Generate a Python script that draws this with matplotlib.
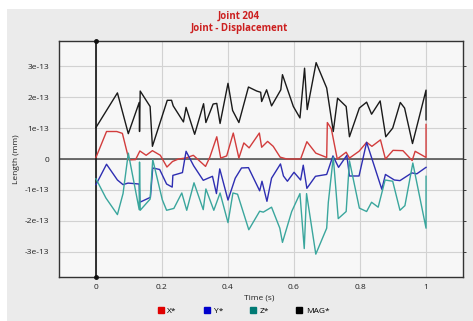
import matplotlib
matplotlib.use("Agg")
import matplotlib.pyplot as plt
from matplotlib.lines import Line2D
from matplotlib.patches import Rectangle

plt.rcParams["font.family"] = ["Open Sans", "DejaVu Sans"]

SCALE = 1e-13

# time values (s) and displacement values (in units of 1e-13 mm)
x_t = [0, 0.032, 0.063, 0.08, 0.100, 0.12, 0.133, 0.152, 0.171, 0.195,
       0.215, 0.232, 0.25, 0.272, 0.295, 0.332, 0.345, 0.366, 0.378, 0.396,
       0.416, 0.433, 0.448, 0.464, 0.495, 0.502, 0.520, 0.537, 0.558, 0.578,
       0.620, 0.639, 0.666, 0.699, 0.701, 0.713, 0.731, 0.758, 0.768, 0.797,
       0.820, 0.836, 0.862, 0.877, 0.900, 0.930, 0.958, 0.967, 1.0, 1.0]
x_v = [0.05, 0.89, 0.89, 0.83, -0.03, -0.02, 0.26, 0.12, 0.27, 0.12,
       -0.26, -0.08, 0.0, 0.03, 0.12, -0.24, 0.06, 0.72, 0.03, 0.1,
       0.84, 0.03, 0.52, 0.36, 0.84, 0.38, 0.57, 0.41, 0.06, 0.0,
       0.0, 0.56, 0.19, 0.05, 1.18, 0.98, 0.0, 0.22, 0.03, 0.25,
       0.54, 0.41, 0.62, 0.0, 0.28, 0.27, -0.05, 0.25, 0.05, 1.12]

y_t = [0, 0.032, 0.065, 0.082, 0.097, 0.131, 0.133, 0.165, 0.172, 0.193,
       0.214, 0.231, 0.233, 0.262, 0.273, 0.296, 0.325, 0.353, 0.365, 0.375,
       0.400, 0.422, 0.441, 0.462, 0.496, 0.503, 0.518, 0.532, 0.559, 0.568,
       0.580, 0.600, 0.620, 0.628, 0.639, 0.665, 0.699, 0.718, 0.735, 0.760,
       0.768, 0.797, 0.820, 0.866, 0.877, 0.904, 0.921, 0.957, 0.972, 1.0]
y_v = [-0.83, -0.17, -0.68, -0.83, -0.78, -0.81, -1.40, -1.24, -0.29, -0.34,
       -0.81, -0.91, -0.53, -0.44, 0.25, -0.22, -0.69, -0.56, -1.12, -0.32,
       -1.33, -0.62, -0.29, -0.28, -1.03, -0.72, -1.37, -0.62, -0.16, -0.55,
       -0.72, -0.43, -0.68, -0.2, -0.95, -0.56, -0.5, 0.1, -0.27, 0.12,
       -0.55, -0.55, 0.54, -0.98, -0.5, -0.68, -0.7, -0.45, -0.48, -0.27]

z_t = [0, 0.03, 0.065, 0.082, 0.098, 0.131, 0.132, 0.134, 0.164, 0.172,
       0.201, 0.214, 0.236, 0.260, 0.275, 0.297, 0.325, 0.333, 0.357, 0.376,
       0.400, 0.415, 0.429, 0.463, 0.496, 0.507, 0.532, 0.557, 0.565, 0.593,
       0.618, 0.631, 0.638, 0.666, 0.699, 0.704, 0.719, 0.734, 0.758, 0.768,
       0.798, 0.820, 0.835, 0.855, 0.876, 0.899, 0.921, 0.936, 0.960, 1.0, 1.0]
z_v = [-0.64, -1.26, -1.8, -1.12, 0.19, -1.64, -0.1, -1.66, -1.3, -0.02,
       -1.32, -1.66, -1.6, -1.1, -1.66, -0.77, -1.64, -0.97, -1.66, -1.1,
       -2.06, -1.1, -1.14, -2.29, -1.69, -1.72, -1.56, -2.24, -2.7, -1.7,
       -1.12, -2.9, -1.12, -3.08, -2.24, -1.4, 0.06, -1.93, -1.7, -0.06,
       -1.59, -1.7, -1.4, -1.56, -0.68, -0.72, -1.66, -1.51, -0.13, -2.24, -0.56]

mag_t = [0, 0.065, 0.098, 0.131, 0.132, 0.134, 0.164, 0.171, 0.216, 0.229,
         0.234, 0.265, 0.273, 0.299, 0.326, 0.333, 0.355, 0.366, 0.376, 0.400,
         0.414, 0.433, 0.462, 0.487, 0.499, 0.502, 0.517, 0.532, 0.560, 0.565,
         0.598, 0.618, 0.632, 0.640, 0.667, 0.699, 0.719, 0.732, 0.758, 0.768,
         0.798, 0.820, 0.835, 0.861, 0.878, 0.899, 0.922, 0.935, 0.959, 1.0, 1.0]
mag_v = [1.02, 2.14, 0.82, 1.83, 0.89, 2.2, 1.70, 0.41, 1.90, 1.90,
         1.72, 1.2, 1.67, 0.8, 1.79, 1.18, 1.78, 1.80, 1.15, 2.45,
         1.57, 1.18, 2.33, 2.2, 2.16, 1.86, 2.24, 1.72, 2.24, 2.73,
         1.70, 1.33, 2.94, 1.60, 3.12, 2.30, 0.89, 1.97, 1.70, 0.72,
         1.65, 1.84, 1.45, 1.88, 0.72, 1.0, 1.83, 1.65, 0.5, 2.23, 1.27]

labels = ["X*", "Y*", "Z*", "MAG*"]
line_colors = ["#d23c3c", "#2e2eb2", "#3aa69d", "#1a1a1a"]
legend_colors = ["#e00000", "#0000cc", "#007a74", "#000000"]

x_ticks = [0, 0.2, 0.4, 0.6, 0.8, 1]
x_tick_labels = ["0", "0.2", "0.4", "0.6", "0.8", "1"]
y_ticks = [-3, -2, -1, 0, 1, 2, 3]
y_tick_labels = ["-3e-13", "-2e-13", "-1e-13", "0", "1e-13", "2e-13", "3e-13"]

fig = plt.figure(figsize=(4.73, 3.21), dpi=100, facecolor="white")
fig.patches.append(Rectangle((7 / 473, 0), 1, 1 - 9 / 321, transform=fig.transFigure,
                             facecolor="#ebebeb", edgecolor="none", zorder=-10))
ax = fig.add_axes([59 / 473, 1 - 277 / 321, 404 / 473, 236 / 321])
ax.set_facecolor("#f7f7f7")

series = [(x_t, x_v), (y_t, y_v), (z_t, z_v), (mag_t, mag_v)]
for (t, v), c in zip(series, line_colors):
    ax.plot(t, [val * SCALE for val in v], color=c, lw=1.0, zorder=3)

ax.axhline(0, color="#555555", lw=1.2, zorder=2)
ax.axvline(0, color="#111111", lw=1.2, zorder=2)
ax.plot([0, 0], [3.82 * SCALE, -3.82 * SCALE], "o", color="#111111", ms=2.5,
        clip_on=False, zorder=4)

ax.set_xlim(-0.112, 1.112)
ax.set_ylim(-3.82 * SCALE, 3.82 * SCALE)
ax.set_xticks(x_ticks)
ax.set_xticklabels(x_tick_labels)
ax.set_yticks([v * SCALE for v in y_ticks])
ax.set_yticklabels(y_tick_labels)
ax.grid(True, color="#d2d2d2", lw=0.8, zorder=1)
ax.tick_params(labelsize=6, length=0, pad=5, colors="#222222")
ax.tick_params(axis="y", right=True, length=2, direction="out", width=0.6)
ax.tick_params(axis="y", left=False)
for s in ax.spines.values():
    s.set_color("#333333")
    s.set_linewidth(1.0)

fig.text(0.505, 1 - 16 / 321, "Joint 204", ha="center", va="center",
         color="#cc1f1f", fontsize=7, fontweight="bold")
fig.text(0.505, 1 - 29 / 321, "Joint - Displacement", ha="center", va="center",
         color="#cc1f1f", fontsize=7, fontweight="bold")
fig.text(259 / 473, 1 - 298 / 321, "Time (s)", ha="center", va="center",
         fontsize=6, color="#222222")
fig.text(17 / 473, 1 - 159 / 321, "Length (mm)", ha="center", va="center",
         rotation=90, fontsize=6, color="#222222")

handles = [Line2D([], [], marker="s", ls="none", color=c, ms=4.5) for c in legend_colors]
fig.legend(handles, labels, loc="center", bbox_to_anchor=(243 / 473, 1 - 311 / 321),
           ncol=4, frameon=False, fontsize=6, handletextpad=0.3,
           columnspacing=3.1, handlelength=1.0)

fig.savefig("out.png", dpi=100, facecolor=fig.get_facecolor())
